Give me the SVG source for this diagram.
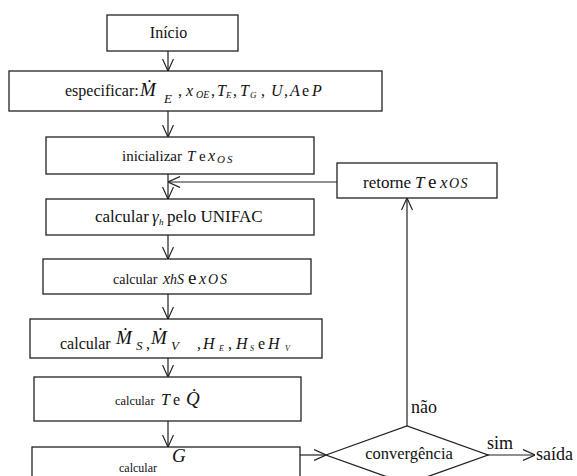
<svg xmlns="http://www.w3.org/2000/svg" width="577" height="476" viewBox="0 0 577 476">
<style>
.box{fill:#fff;stroke:#222;stroke-width:1.3}
.ln{fill:none;stroke:#222;stroke-width:1.2}
.i{font-style:italic}
</style>
<defs>
<marker id="ah" markerUnits="userSpaceOnUse" viewBox="0 0 12 12" refX="12" refY="6" markerWidth="12" markerHeight="12" orient="auto">
<path d="M0,0.5 L12,6 L0,11.5" fill="none" stroke="#222" stroke-width="1.2"/>
</marker>
</defs>
<rect width="577" height="476" fill="#fff"/>
<g id="connectors">
<line class="ln" x1="168" y1="51" x2="168" y2="71" marker-end="url(#ah)"/>
<line class="ln" x1="168" y1="111" x2="168" y2="137" marker-end="url(#ah)"/>
<line class="ln" x1="168" y1="174" x2="168" y2="199" marker-end="url(#ah)"/>
<line class="ln" x1="337" y1="182" x2="168" y2="182" marker-end="url(#ah)"/>
<line class="ln" x1="168" y1="235" x2="168" y2="259" marker-end="url(#ah)"/>
<line class="ln" x1="168" y1="294" x2="168" y2="319" marker-end="url(#ah)"/>
<line class="ln" x1="168" y1="358" x2="168" y2="377" marker-end="url(#ah)"/>
<line class="ln" x1="168" y1="421" x2="168" y2="447" marker-end="url(#ah)"/>
<line class="ln" x1="300" y1="455" x2="326" y2="455" marker-end="url(#ah)"/>
<line class="ln" x1="407" y1="426" x2="407" y2="198" marker-end="url(#ah)"/>
<line class="ln" x1="485" y1="455" x2="535" y2="455" marker-end="url(#ah)"/>
</g>
<g font-family="Liberation Serif, serif" fill="#111" font-size="16">
<g id="inicio">
<rect class="box" x="107" y="15" width="131" height="36"/>
<text x="168.5" y="38" text-anchor="middle">Início</text>
</g>
<g id="especificar">
<rect class="box" x="9" y="71" width="373" height="40"/>
<text y="96"><tspan x="65">especificar:</tspan><tspan x="140" class="i" font-size="19">Ṁ</tspan><tspan x="164" y="103" class="i" font-size="13">E</tspan><tspan x="178" y="96">,</tspan><tspan x="186" class="i">x</tspan><tspan x="196" y="98" class="i" font-size="10">OE</tspan><tspan x="211" y="96">,</tspan><tspan x="217" class="i">T</tspan><tspan x="226" y="98" class="i" font-size="9">E</tspan><tspan x="233" y="96">,</tspan><tspan x="240" class="i">T</tspan><tspan x="250" y="98" class="i" font-size="9">G</tspan><tspan x="261" y="96">,</tspan><tspan x="271" class="i">U</tspan><tspan x="284">,</tspan><tspan x="290" class="i">A</tspan><tspan x="302">e</tspan><tspan x="312" class="i">P</tspan></text>
</g>
<g id="inicializar">
<rect class="box" x="46" y="137" width="268" height="37"/>
<text y="161" font-size="15"><tspan x="122">inicializar</tspan><tspan x="187" class="i">T</tspan><tspan x="199">e</tspan><tspan x="208" class="i" font-size="16">x</tspan><tspan x="217" y="163" class="i" font-size="11" letter-spacing="2">OS</tspan></text>
</g>
<g id="retorne">
<rect class="box" x="337" y="163" width="160" height="35"/>
<text y="188" font-size="17"><tspan x="363">retorne</tspan><tspan x="415" class="i">T</tspan><tspan x="428" font-size="19">e</tspan><tspan x="440" class="i">x</tspan><tspan x="449" class="i" font-size="14" letter-spacing="1.5">OS</tspan></text>
</g>
<g id="unifac">
<rect class="box" x="46" y="199" width="268" height="36"/>
<text y="222" font-size="17"><tspan x="95">calcular</tspan><tspan x="152" class="i">γ</tspan><tspan x="159" y="225" class="i" font-size="9">h</tspan><tspan x="167" y="222">pelo UNIFAC</tspan></text>
</g>
<g id="xhs">
<rect class="box" x="43" y="259" width="268" height="35"/>
<text y="284"><tspan x="113" font-size="14">calcular</tspan><tspan x="163" class="i">x</tspan><tspan x="170" class="i" font-size="14">hS</tspan><tspan x="188" font-size="19">e</tspan><tspan x="199" class="i">x</tspan><tspan x="208" class="i" font-size="14" letter-spacing="2">OS</tspan></text>
</g>
<g id="ms">
<rect class="box" x="30" y="319" width="292" height="39"/>
<text y="349"><tspan x="60">calcular</tspan><tspan x="116" y="344" class="i" font-size="19">Ṁ</tspan><tspan x="136" y="350" class="i" font-size="13">S</tspan><tspan x="146" y="349">,</tspan><tspan x="151" y="344" class="i" font-size="19">Ṁ</tspan><tspan x="171" y="350" class="i" font-size="13">V</tspan><tspan x="197" y="349">,</tspan><tspan x="203" class="i">H</tspan><tspan x="219" y="351" class="i" font-size="8">E</tspan><tspan x="228" y="349">,</tspan><tspan x="236" class="i">H</tspan><tspan x="250" y="351" class="i" font-size="8">S</tspan><tspan x="258" y="349">e</tspan><tspan x="268" class="i">H</tspan><tspan x="285" y="351" class="i" font-size="8">V</tspan></text>
</g>
<g id="tq">
<rect class="box" x="34" y="377" width="267" height="44"/>
<text y="405"><tspan x="115" font-size="12.5">calcular</tspan><tspan x="161" class="i">T</tspan><tspan x="173">e</tspan><tspan x="186" class="i" font-size="19">Q̇</tspan></text>
</g>
<g id="g">
<rect class="box" x="32" y="447" width="268" height="40"/>
<text y="472"><tspan x="119" font-size="12">calcular</tspan><tspan x="172" y="462" class="i" font-size="19">G</tspan></text>
</g>
<g id="convergencia">
<polygon class="box" points="326,455 407,426 488,455 407,484"/>
<text x="409" y="459" text-anchor="middle" font-size="16.5">convergência</text>
</g>
<g id="labels" font-size="18">
<text x="411" y="413">não</text>
<text x="487" y="449">sim</text>
<text x="536" y="460">saída</text>
</g>
</g>
</svg>
